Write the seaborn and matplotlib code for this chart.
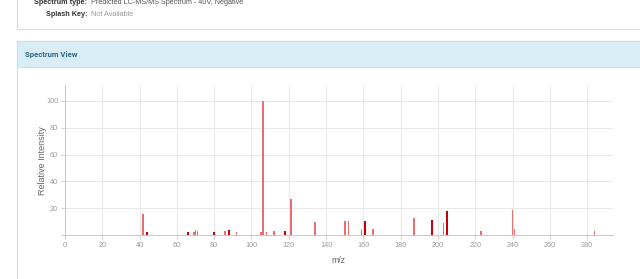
import matplotlib
matplotlib.use("Agg")
import matplotlib.pyplot as plt
import seaborn as sns
import pandas as pd
from matplotlib.patches import Rectangle

# ---- data ----
mz = [42, 44, 66, 69, 70, 71, 80, 86, 88, 92, 105, 106, 108, 112, 118, 121,
      134, 150, 152, 159, 161, 165, 187, 197, 203, 205, 223, 240, 241, 284]
intensity = [15.8, 2.4, 2.2, 2.5, 3.7, 3.5, 2.4, 3.0, 4.0, 2.7, 2.6, 100, 2.6, 3.1, 3.0, 27.0,
             9.9, 10.9, 10.9, 4.4, 10.6, 4.7, 12.9, 11.4, 9.4, 17.8, 3.2, 18.8, 4.4, 3.4]
dark_peaks = [44, 66, 80, 88, 118, 161, 197, 205]
x_ticks = [0, 20, 40, 60, 80, 100, 120, 140, 160, 180, 200, 220, 240, 260, 280]
y_ticks = [20, 40, 60, 80, 100]

df = pd.DataFrame({"mz": mz, "intensity": intensity})

W, H = 640, 279
sns.set_theme(style="white")
plt.rcParams["font.family"] = ["Liberation Sans", "DejaVu Sans"]

fig = plt.figure(figsize=(W / 100, H / 100), dpi=100)
fig.patch.set_facecolor("white")

def fx(x):
    return x / W

def fy(y):
    return 1 - y / H

border = "#bfe3f0"
fig.add_artist(Rectangle((fx(17), fy(29)), fx(700) - fx(17), fy(-10) - fy(29),
                         transform=fig.transFigure, facecolor="white",
                         edgecolor=border, lw=0.8, zorder=-2))
fig.add_artist(Rectangle((fx(17), fy(300)), fx(700) - fx(17), fy(41) - fy(300),
                         transform=fig.transFigure, facecolor="white",
                         edgecolor=border, lw=0.8, zorder=-2))
fig.add_artist(Rectangle((fx(17), fy(67)), fx(700) - fx(17), fy(41) - fy(67),
                         transform=fig.transFigure, facecolor="#d9edf7",
                         edgecolor=border, lw=0.8, zorder=-1))

fig.text(fx(87), fy(3), "Spectrum type:", ha="right", va="center",
         fontsize=5.2, fontweight="bold", color="#333333")
fig.text(fx(91), fy(3), "Predicted LC-MS/MS Spectrum - 40V, Negative", ha="left",
         va="center", fontsize=5.2, color="#555555")
fig.text(fx(87), fy(15), "Splash Key:", ha="right", va="center",
         fontsize=5.2, fontweight="bold", color="#333333")
fig.text(fx(91), fy(15), "Not Available", ha="left", va="center",
         fontsize=5.2, color="#999999")
fig.text(fx(25), fy(55), "Spectrum View", ha="left", va="center",
         fontsize=5.6, fontweight="bold", color="#2f6a8a",
         family=["Roboto", "DejaVu Sans"])

ax = fig.add_axes([fx(65), fy(235.3), fx(612.7) - fx(65), fy(85) - fy(235.3)])
ax.set_facecolor("white")
sns.barplot(data=df, x="mz", y="intensity", native_scale=True,
            color="#e66f71", width=0.95, saturation=1, linewidth=0,
            edgecolor="none", ax=ax, zorder=3)
# darker rendering of some peaks, as in the reference
bars = sorted(ax.patches, key=lambda p: p.get_x())
for m, bar in zip(sorted(mz), bars):
    bar.set_antialiased(False)
    if m in dark_peaks:
        bar.set_facecolor("#c4000f")

ax.set_xlim(0, 293.7)
ax.set_ylim(0, 111.7)
ax.set_xticks(x_ticks)
ax.set_xticklabels([str(t) for t in x_ticks])
ax.set_yticks([0] + y_ticks)
ax.set_yticklabels([""] + [str(t) for t in y_ticks])
ax.grid(True, color="#e8e8e8", lw=0.7, zorder=0)
ax.set_axisbelow(True)
for s in ["top", "right"]:
    ax.spines[s].set_visible(False)
for s in ["left", "bottom"]:
    ax.spines[s].set_color("#c8c8c8")
    ax.spines[s].set_linewidth(0.7)
ax.tick_params(axis="both", which="both", length=3, width=0.6, color="#c8c8c8",
               labelsize=5.2, labelcolor="#9a9a9a", pad=2,
               bottom=True, left=True)
ax.set_xlabel("m/z", fontsize=6.3, color="#666666", labelpad=5)
ax.set_ylabel("Relative Intensity", fontsize=6.5, color="#666666", labelpad=-1)

fig.savefig("out.png", dpi=100)
